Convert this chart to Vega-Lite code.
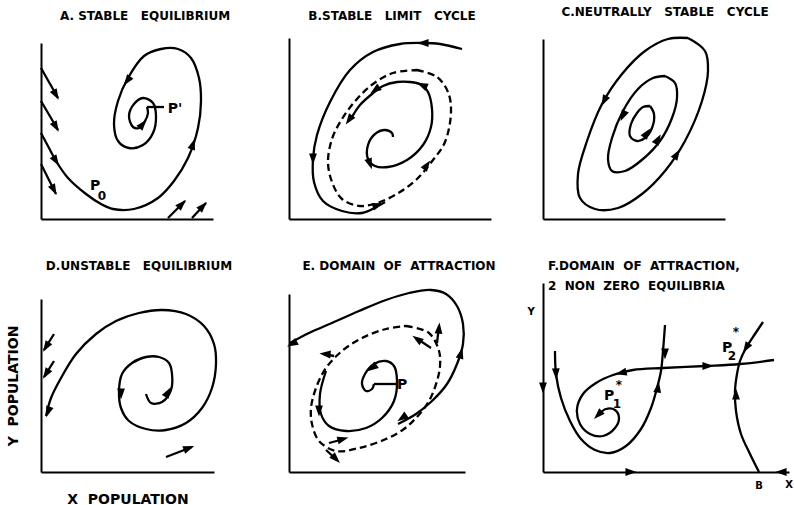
{
"$schema": "https://vega.github.io/schema/vega-lite/v6.json",
"background": "white",
"padding": {"left": 6, "top": 6, "right": 0, "bottom": 0},
"columns": 3,
"spacing": {"row": 64, "column": 30},
"bounds": "flush",
"datasets": {
"A_l": [
{"id":"m","x":0,"y":86},{"id":"m","x":8,"y":71},{"id":"m","x":15,"y":58},{"id":"m","x":27,"y":41},{"id":"m","x":45,"y":25},{"id":"m","x":60,"y":15},{"id":"m","x":72,"y":10},{"id":"m","x":93,"y":10},{"id":"m","x":117,"y":21},{"id":"m","x":133,"y":38},{"id":"m","x":147,"y":61},{"id":"m","x":157,"y":91},{"id":"m","x":160,"y":118},{"id":"m","x":158,"y":141},{"id":"m","x":150,"y":161},{"id":"m","x":137,"y":170},{"id":"m","x":120,"y":170},{"id":"m","x":103,"y":163},{"id":"m","x":87,"y":141},{"id":"m","x":77,"y":118},{"id":"m","x":73,"y":95},{"id":"m","x":77,"y":78},{"id":"m","x":88,"y":71},{"id":"m","x":102,"y":74},{"id":"m","x":112,"y":86},{"id":"m","x":115,"y":103},{"id":"m","x":112,"y":116},{"id":"m","x":102,"y":121},{"id":"m","x":93,"y":115},{"id":"m","x":88,"y":103},{"id":"m","x":92,"y":92},{"id":"m","x":98,"y":91},{"id":"m","x":104,"y":98},{"id":"m","x":107,"y":106},{"id":"m","x":106,"y":112},
{"id":"s1","x":0,"y":151},{"id":"s1","x":17,"y":121},
{"id":"s2","x":0,"y":118},{"id":"s2","x":17,"y":89},
{"id":"s3","x":0,"y":55},{"id":"s3","x":15,"y":25},
{"id":"b1","x":127,"y":1},{"id":"b1","x":144,"y":18},
{"id":"b2","x":151,"y":1},{"id":"b2","x":165,"y":16},
{"id":"lead","x":106,"y":112},{"id":"lead","x":123,"y":112}
],
"A_a": [
{"x":15,"y":58,"a":148},{"x":152,"y":75,"a":18},{"x":86,"y":138,"a":216},{"x":102,"y":95,"a":40},
{"x":15,"y":124,"a":150},{"x":15,"y":92,"a":150},{"x":13,"y":29,"a":153},{"x":141,"y":15,"a":45},{"x":162,"y":13,"a":43}
],
"A_t": [
{"x":54,"y":33,"t":"P","r":"main"},{"x":61,"y":23,"t":"0","r":"sub"},{"x":134,"y":110,"t":"P'","r":"main"}
],
"B_l": [
{"id":"o","x":173,"y":170},{"id":"o","x":151,"y":175},{"id":"o","x":134,"y":176},{"id":"o","x":111,"y":175},{"id":"o","x":84,"y":167},{"id":"o","x":61,"y":149},{"id":"o","x":41,"y":117},{"id":"o","x":28,"y":84},{"id":"o","x":24,"y":60},{"id":"o","x":25,"y":37},{"id":"o","x":34,"y":18},{"id":"o","x":53,"y":8},{"id":"o","x":73,"y":6},{"id":"o","x":89,"y":13},{"id":"o","x":96,"y":17},
{"id":"i","x":104,"y":82},{"id":"i","x":103,"y":86},{"id":"i","x":96,"y":89},{"id":"i","x":86,"y":85},{"id":"i","x":79,"y":74},{"id":"i","x":79,"y":60},{"id":"i","x":86,"y":53},{"id":"i","x":99,"y":52},{"id":"i","x":118,"y":59},{"id":"i","x":134,"y":74},{"id":"i","x":142,"y":92},{"id":"i","x":143,"y":110},{"id":"i","x":139,"y":127},{"id":"i","x":133,"y":134},{"id":"i","x":121,"y":137},{"id":"i","x":108,"y":137},{"id":"i","x":94,"y":133},{"id":"i","x":83,"y":125},{"id":"i","x":71,"y":114},{"id":"i","x":63,"y":102}
],
"B_c": [
{"id":"c","x":128,"y":149},{"id":"c","x":148,"y":142},{"id":"c","x":159,"y":127},{"id":"c","x":162,"y":107},{"id":"c","x":156,"y":77},{"id":"c","x":144,"y":59},{"id":"c","x":128,"y":40},{"id":"c","x":111,"y":27},{"id":"c","x":91,"y":17},{"id":"c","x":71,"y":13},{"id":"c","x":53,"y":20},{"id":"c","x":43,"y":37},{"id":"c","x":39,"y":57},{"id":"c","x":43,"y":80},{"id":"c","x":53,"y":100},{"id":"c","x":68,"y":120},{"id":"c","x":84,"y":135},{"id":"c","x":104,"y":146},{"id":"c","x":128,"y":149}
],
"B_a": [
{"x":134,"y":176,"a":270},{"x":24,"y":60,"a":180},{"x":89,"y":14,"a":70},{"x":138,"y":54,"a":35},{"x":60,"y":99,"a":215},{"x":81,"y":55,"a":160},{"x":133,"y":134,"a":295},{"x":86,"y":129,"a":234}
],
"C_l": [
{"id":"o","x":145,"y":181},{"id":"o","x":162,"y":168},{"id":"o","x":165,"y":148},{"id":"o","x":159,"y":118},{"id":"o","x":142,"y":78},{"id":"o","x":122,"y":48},{"id":"o","x":99,"y":25},{"id":"o","x":75,"y":11},{"id":"o","x":52,"y":10},{"id":"o","x":37,"y":21},{"id":"o","x":35,"y":45},{"id":"o","x":44,"y":78},{"id":"o","x":59,"y":115},{"id":"o","x":79,"y":145},{"id":"o","x":102,"y":168},{"id":"o","x":125,"y":180},{"id":"o","x":145,"y":181},
{"id":"m","x":122,"y":143},{"id":"m","x":132,"y":136},{"id":"m","x":134,"y":121},{"id":"m","x":129,"y":101},{"id":"m","x":117,"y":78},{"id":"m","x":100,"y":60},{"id":"m","x":82,"y":48},{"id":"m","x":69,"y":48},{"id":"m","x":65,"y":60},{"id":"m","x":69,"y":81},{"id":"m","x":80,"y":108},{"id":"m","x":95,"y":130},{"id":"m","x":110,"y":141},{"id":"m","x":122,"y":143},
{"id":"n","x":107,"y":113},{"id":"n","x":111,"y":105},{"id":"n","x":109,"y":91},{"id":"n","x":102,"y":81},{"id":"n","x":94,"y":78},{"id":"n","x":87,"y":83},{"id":"n","x":88,"y":95},{"id":"n","x":94,"y":106},{"id":"n","x":100,"y":112},{"id":"n","x":107,"y":113}
],
"C_a": [
{"x":61,"y":118,"a":207},{"x":134,"y":65,"a":32},{"x":80,"y":103,"a":205},{"x":115,"y":80,"a":30},{"x":104,"y":86,"a":35}
],
"D_l": [
{"id":"s","x":105,"y":78},{"id":"s","x":110,"y":69},{"id":"s","x":121,"y":70},{"id":"s","x":130,"y":82},{"id":"s","x":131,"y":98},{"id":"s","x":128,"y":109},{"id":"s","x":118,"y":115},{"id":"s","x":105,"y":115},{"id":"s","x":91,"y":109},{"id":"s","x":81,"y":98},{"id":"s","x":78,"y":81},{"id":"s","x":80,"y":64},{"id":"s","x":88,"y":51},{"id":"s","x":105,"y":43},{"id":"s","x":125,"y":42},{"id":"s","x":145,"y":49},{"id":"s","x":161,"y":64},{"id":"s","x":171,"y":84},{"id":"s","x":175,"y":108},{"id":"s","x":173,"y":128},{"id":"s","x":163,"y":146},{"id":"s","x":145,"y":158},{"id":"s","x":121,"y":162},{"id":"s","x":98,"y":159},{"id":"s","x":75,"y":151},{"id":"s","x":55,"y":138},{"id":"s","x":35,"y":118},{"id":"s","x":20,"y":94},{"id":"s","x":10,"y":74},{"id":"s","x":5,"y":56},
{"id":"l1","x":13,"y":138},{"id":"l1","x":3,"y":122},
{"id":"l2","x":13,"y":111},{"id":"l2","x":3,"y":95},
{"id":"r","x":125,"y":15},{"id":"r","x":151,"y":25}
],
"D_a": [
{"x":127,"y":80,"a":30},{"x":80,"y":78,"a":180},{"x":7,"y":60,"a":200},{"x":5,"y":125,"a":212},{"x":5,"y":98,"a":212},{"x":148,"y":24,"a":69}
],
"E_l": [
{"id":"o","x":109,"y":48},{"id":"o","x":127,"y":58},{"id":"o","x":143,"y":71},{"id":"o","x":158,"y":88},{"id":"o","x":168,"y":108},{"id":"o","x":174,"y":128},{"id":"o","x":174,"y":148},{"id":"o","x":168,"y":166},{"id":"o","x":157,"y":178},{"id":"o","x":142,"y":182},{"id":"o","x":120,"y":179},{"id":"o","x":97,"y":172},{"id":"o","x":70,"y":161},{"id":"o","x":43,"y":149},{"id":"o","x":20,"y":139},{"id":"o","x":1,"y":129},
{"id":"i","x":37,"y":101},{"id":"i","x":31,"y":78},{"id":"i","x":32,"y":58},{"id":"i","x":40,"y":46},{"id":"i","x":57,"y":41},{"id":"i","x":77,"y":44},{"id":"i","x":93,"y":54},{"id":"i","x":105,"y":71},{"id":"i","x":108,"y":91},{"id":"i","x":105,"y":106},{"id":"i","x":97,"y":111},{"id":"i","x":85,"y":108},{"id":"i","x":76,"y":98},{"id":"i","x":73,"y":88},{"id":"i","x":77,"y":81},{"id":"i","x":83,"y":83},{"id":"i","x":85,"y":88},
{"id":"lead","x":85,"y":88},{"id":"lead","x":107,"y":88},
{"id":"a1","x":148,"y":129},{"id":"a1","x":150,"y":146},
{"id":"a2","x":142,"y":124},{"id":"a2","x":127,"y":134},
{"id":"a3","x":45,"y":116},{"id":"a3","x":35,"y":118},
{"id":"a4","x":40,"y":29},{"id":"a4","x":55,"y":33},
{"id":"a5","x":37,"y":22},{"id":"a5","x":48,"y":12}
],
"E_c": [
{"id":"c","x":117,"y":146},{"id":"c","x":140,"y":139},{"id":"c","x":150,"y":121},{"id":"c","x":151,"y":106},{"id":"c","x":148,"y":91},{"id":"c","x":140,"y":71},{"id":"c","x":127,"y":54},{"id":"c","x":115,"y":43},{"id":"c","x":97,"y":33},{"id":"c","x":70,"y":24},{"id":"c","x":47,"y":21},{"id":"c","x":30,"y":31},{"id":"c","x":23,"y":48},{"id":"c","x":22,"y":64},{"id":"c","x":27,"y":84},{"id":"c","x":37,"y":104},{"id":"c","x":53,"y":121},{"id":"c","x":73,"y":134},{"id":"c","x":97,"y":143},{"id":"c","x":117,"y":146}
],
"E_a": [
{"x":172,"y":119,"a":15},{"x":113,"y":54,"a":235},{"x":3,"y":128,"a":242},{"x":150,"y":144,"a":5},{"x":128,"y":133,"a":304},{"x":36,"y":118,"a":275},{"x":54,"y":33,"a":75},{"x":47,"y":13,"a":135},{"x":30,"y":61,"a":180},{"x":83,"y":104,"a":235}
],
"E_t": [
{"x":113,"y":87,"t":"P","r":"main"}
],
"F_l": [
{"id":"s","x":231,"y":112},{"id":"s","x":197,"y":108},{"id":"s","x":163,"y":106},{"id":"s","x":120,"y":104},{"id":"s","x":90,"y":102},{"id":"s","x":70,"y":97},{"id":"s","x":53,"y":89},{"id":"s","x":40,"y":78},{"id":"s","x":34,"y":63},{"id":"s","x":37,"y":48},{"id":"s","x":47,"y":38},{"id":"s","x":60,"y":36},{"id":"s","x":72,"y":44},{"id":"s","x":76,"y":54},{"id":"s","x":72,"y":62},{"id":"s","x":63,"y":63},{"id":"s","x":56,"y":58},
{"id":"u","x":12,"y":121},{"id":"u","x":13,"y":98},{"id":"u","x":18,"y":74},{"id":"u","x":27,"y":51},{"id":"u","x":38,"y":33},{"id":"u","x":52,"y":22},{"id":"u","x":67,"y":19},{"id":"u","x":83,"y":26},{"id":"u","x":98,"y":43},{"id":"u","x":108,"y":64},{"id":"u","x":114,"y":84},{"id":"u","x":118,"y":101},{"id":"u","x":120,"y":121},{"id":"u","x":122,"y":147},
{"id":"r","x":220,"y":150},{"id":"r","x":212,"y":138},{"id":"r","x":203,"y":124},{"id":"r","x":197,"y":111},{"id":"r","x":194,"y":98},{"id":"r","x":192,"y":81},{"id":"r","x":193,"y":61},{"id":"r","x":198,"y":38},{"id":"r","x":207,"y":18},{"id":"r","x":216,"y":0}
],
"F_a": [
{"x":165,"y":106,"a":90},{"x":78,"y":99,"a":256},{"x":55,"y":57,"a":225},{"x":13,"y":98,"a":178},{"x":115,"y":85,"a":8},{"x":122,"y":118,"a":180},{"x":203,"y":124,"a":212},{"x":193,"y":78,"a":0},{"x":88,"y":0,"a":90},{"x":238,"y":0,"a":270},{"x":0,"y":84,"a":180}
],
"F_t": [
{"x":-12,"y":160,"t":"Y","r":"axis"},{"x":246,"y":-13,"t":"X","r":"axis"},{"x":216,"y":-14,"t":"B","r":"axis"},
{"x":66,"y":76,"t":"P","r":"main"},{"x":74,"y":68,"t":"1","r":"sub"},{"x":76,"y":87,"t":"*","r":"sub"},
{"x":184,"y":124,"t":"P","r":"main"},{"x":189,"y":116,"t":"2","r":"sub"},{"x":193,"y":140,"t":"*","r":"sub"}
]
},
"concat": [
{
"width": 218, "height": 182,
"title": {"text": "A.\u00a0STABLE\u00a0\u00a0\u00a0EQUILIBRIUM", "anchor": "middle", "dx": -5, "offset": 5, "baseline": "alphabetic"},
"encoding": {
"x": {"field": "x", "type": "quantitative", "scale": {"domain": [0, 172], "range": [0, 172], "nice": false, "zero": false}, "axis": {"title": null}},
"y": {"field": "y", "type": "quantitative", "scale": {"domain": [0, 176], "range": [182, 6], "nice": false, "zero": false}, "axis": {"title": null}}
},
"layer": [
{"data": {"name": "A_l"}, "mark": {"type": "line", "interpolate": "catmull-rom", "strokeWidth": 2.3, "color": "black"}, "encoding": {"detail": {"field": "id"}, "order": {"value": null}}},
{"data": {"name": "A_a"}, "mark": {"type": "point", "shape": "M0,-1L0.7,1L-0.7,1Z", "filled": true, "color": "black", "opacity": 1, "size": 125}, "encoding": {"angle": {"field": "a", "type": "quantitative", "scale": null}}},
{"data": {"name": "A_t"}, "mark": {"type": "text", "font": "DejaVu Sans", "fontWeight": "bold", "color": "black"}, "encoding": {"text": {"field": "t"}, "size": {"field": "r", "type": "ordinal", "scale": {"domain": ["main", "sub", "axis"], "range": [14, 10, 12]}, "legend": null}}}
]
},
{
"width": 224, "height": 182,
"title": {"text": "B.STABLE\u00a0\u00a0\u00a0LIMIT\u00a0\u00a0\u00a0CYCLE", "anchor": "middle", "dx": -9, "offset": 5, "baseline": "alphabetic"},
"encoding": {
"x": {"field": "x", "type": "quantitative", "scale": {"domain": [0, 202], "range": [0, 202], "nice": false, "zero": false}, "axis": {"title": null}},
"y": {"field": "y", "type": "quantitative", "scale": {"domain": [0, 181], "range": [182, 1], "nice": false, "zero": false}, "axis": {"title": null}}
},
"layer": [
{"data": {"name": "B_l"}, "mark": {"type": "line", "interpolate": "catmull-rom", "strokeWidth": 2.3, "color": "black"}, "encoding": {"detail": {"field": "id"}, "order": {"value": null}}},
{"data": {"name": "B_c"}, "mark": {"type": "line", "interpolate": "catmull-rom", "strokeWidth": 2.3, "color": "black", "strokeDash": [7, 4]}, "encoding": {"detail": {"field": "id"}, "order": {"value": null}}},
{"data": {"name": "B_a"}, "mark": {"type": "point", "shape": "M0,-1L0.7,1L-0.7,1Z", "filled": true, "color": "black", "opacity": 1, "size": 125}, "encoding": {"angle": {"field": "a", "type": "quantitative", "scale": null}}}
]
},
{
"width": 247, "height": 182,
"title": {"text": "C.NEUTRALLY\u00a0\u00a0\u00a0STABLE\u00a0\u00a0\u00a0CYCLE", "anchor": "middle", "dx": -1.5, "offset": 5, "baseline": "alphabetic"},
"encoding": {
"x": {"field": "x", "type": "quantitative", "scale": {"domain": [0, 182], "range": [0, 182], "nice": false, "zero": false}, "axis": {"title": null}},
"y": {"field": "y", "type": "quantitative", "scale": {"domain": [0, 180], "range": [182, 2], "nice": false, "zero": false}, "axis": {"title": null}}
},
"layer": [
{"data": {"name": "C_l"}, "mark": {"type": "line", "interpolate": "catmull-rom", "strokeWidth": 2.3, "color": "black"}, "encoding": {"detail": {"field": "id"}, "order": {"value": null}}},
{"data": {"name": "C_a"}, "mark": {"type": "point", "shape": "M0,-1L0.7,1L-0.7,1Z", "filled": true, "color": "black", "opacity": 1, "size": 125}, "encoding": {"angle": {"field": "a", "type": "quantitative", "scale": null}}}
]
},
{
"width": 218, "height": 189,
"title": {"text": "D.UNSTABLE\u00a0\u00a0\u00a0EQUILIBRIUM", "anchor": "middle", "dx": -11, "offset": 1.5, "baseline": "alphabetic"},
"encoding": {
"x": {"field": "x", "type": "quantitative", "scale": {"domain": [0, 173], "range": [0, 173], "nice": false, "zero": false}, "axis": {"title": "X\u00a0\u00a0POPULATION", "titleFont": "DejaVu Sans", "titleFontWeight": "bold", "titleFontSize": 14, "titleColor": "black", "titlePadding": 20}},
"y": {"field": "y", "type": "quantitative", "scale": {"domain": [0, 173], "range": [189, 16], "nice": false, "zero": false}, "axis": {"title": "Y\u00a0\u00a0POPULATION", "titleFont": "DejaVu Sans", "titleFontWeight": "bold", "titleFontSize": 14, "titleColor": "black", "titlePadding": 21}}
},
"layer": [
{"data": {"name": "D_l"}, "mark": {"type": "line", "interpolate": "catmull-rom", "strokeWidth": 2.3, "color": "black"}, "encoding": {"detail": {"field": "id"}, "order": {"value": null}}},
{"data": {"name": "D_a"}, "mark": {"type": "point", "shape": "M0,-1L0.7,1L-0.7,1Z", "filled": true, "color": "black", "opacity": 1, "size": 125}, "encoding": {"angle": {"field": "a", "type": "quantitative", "scale": null}}}
]
},
{
"width": 224, "height": 189,
"title": {"text": "E.\u00a0DOMAIN\u00a0\u00a0OF\u00a0\u00a0ATTRACTION", "anchor": "middle", "dx": -2, "offset": 1.5, "baseline": "alphabetic"},
"encoding": {
"x": {"field": "x", "type": "quantitative", "scale": {"domain": [0, 176], "range": [0, 176], "nice": false, "zero": false}, "axis": {"title": null}},
"y": {"field": "y", "type": "quantitative", "scale": {"domain": [0, 178], "range": [189, 11], "nice": false, "zero": false}, "axis": {"title": null}}
},
"layer": [
{"data": {"name": "E_l"}, "mark": {"type": "line", "interpolate": "catmull-rom", "strokeWidth": 2.3, "color": "black"}, "encoding": {"detail": {"field": "id"}, "order": {"value": null}}},
{"data": {"name": "E_c"}, "mark": {"type": "line", "interpolate": "catmull-rom", "strokeWidth": 2.3, "color": "black", "strokeDash": [7, 4]}, "encoding": {"detail": {"field": "id"}, "order": {"value": null}}},
{"data": {"name": "E_a"}, "mark": {"type": "point", "shape": "M0,-1L0.7,1L-0.7,1Z", "filled": true, "color": "black", "opacity": 1, "size": 125}, "encoding": {"angle": {"field": "a", "type": "quantitative", "scale": null}}},
{"data": {"name": "E_t"}, "mark": {"type": "text", "font": "DejaVu Sans", "fontWeight": "bold", "color": "black"}, "encoding": {"text": {"field": "t"}, "size": {"field": "r", "type": "ordinal", "scale": {"domain": ["main", "sub", "axis"], "range": [14, 10, 12]}, "legend": null}}}
]
},
{
"width": 247, "height": 189,
"title": {"text": ["F.DOMAIN\u00a0\u00a0OF\u00a0\u00a0ATTRACTION,", "2\u00a0\u00a0NON\u00a0\u00a0ZERO\u00a0\u00a0EQUILIBRIA"], "anchor": "start", "dx": 5, "offset": -19, "baseline": "alphabetic", "lineHeight": 20},
"encoding": {
"x": {"field": "x", "type": "quantitative", "scale": {"domain": [0, 246], "range": [0, 246], "nice": false, "zero": false}, "axis": {"title": null}},
"y": {"field": "y", "type": "quantitative", "scale": {"domain": [0, 189], "range": [189, 0], "nice": false, "zero": false}, "axis": {"title": null}}
},
"layer": [
{"data": {"name": "F_l"}, "mark": {"type": "line", "interpolate": "catmull-rom", "strokeWidth": 2.3, "color": "black"}, "encoding": {"detail": {"field": "id"}, "order": {"value": null}}},
{"data": {"name": "F_a"}, "mark": {"type": "point", "shape": "M0,-1L0.7,1L-0.7,1Z", "filled": true, "color": "black", "opacity": 1, "size": 125}, "encoding": {"angle": {"field": "a", "type": "quantitative", "scale": null}}},
{"data": {"name": "F_t"}, "mark": {"type": "text", "font": "DejaVu Sans", "fontWeight": "bold", "color": "black"}, "encoding": {"text": {"field": "t"}, "size": {"field": "r", "type": "ordinal", "scale": {"domain": ["main", "sub", "axis"], "range": [14, 10, 12]}, "legend": null}}}
]
}
],
"config": {
"view": {"stroke": null},
"axis": {"domainColor": "black", "domainWidth": 2, "ticks": false, "labels": false, "grid": false},
"title": {"font": "DejaVu Sans", "fontWeight": "bold", "fontSize": 12, "color": "black", "frame": "group"}
}
}
